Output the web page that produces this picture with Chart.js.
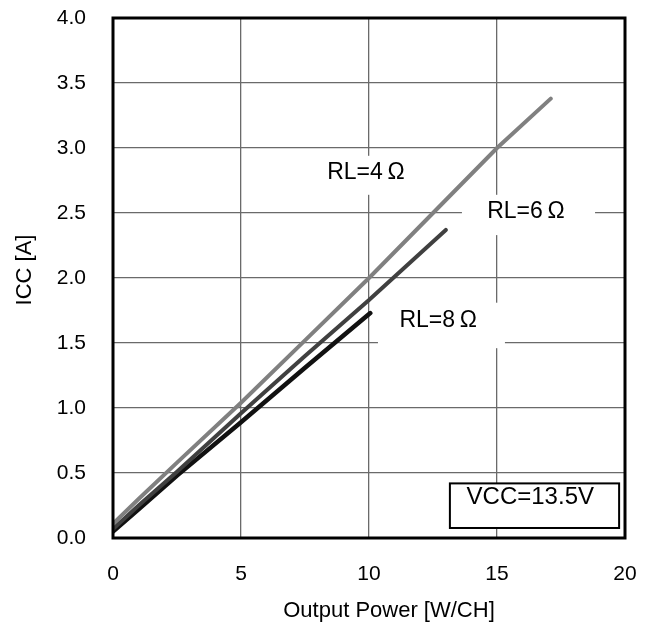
<!DOCTYPE html>
<html>
<head>
<meta charset="utf-8">
<script src="https://cdn.jsdelivr.net/npm/chart.js@4/dist/chart.umd.min.js"></script>
<style>
  body { margin: 0; background: #fff; }
  canvas { display: block; }
</style>
</head>
<body>
<canvas id="icc" width="651" height="632"></canvas>
<script>
  // values
  let powerRL4 = [0, 1, 2.5, 5, 7.5, 10, 12.5, 15, 17.1];
  let iccRL4   = [0.11, 0.30, 0.58, 1.04, 1.52, 2.00, 2.50, 3.00, 3.38];
  let powerRL6 = [0, 1, 2.5, 5, 7.5, 10, 13.0];
  let iccRL6   = [0.07, 0.25, 0.51, 0.96, 1.40, 1.83, 2.37];
  let powerRL8 = [0, 1, 2.5, 5, 7.5, 10.05];
  let iccRL8   = [0.05, 0.22, 0.48, 0.89, 1.31, 1.73];
  let xTicks = [0, 5, 10, 15, 20];
  let yTicks = [0.0, 0.5, 1.0, 1.5, 2.0, 2.5, 3.0, 3.5, 4.0];
  let xTitle = 'Output Power [W/CH]';
  let yTitle = 'ICC [A]';

  let font = "'Liberation Sans', Arial, sans-serif";
  let toPoints = (xs, ys) => xs.map((x, i) => ({ x: x, y: ys[i] }));

  // text notes in data coordinates: text position and the white box behind it
  let notes = [
    { text: 'RL=4\u2009\u03A9', x: 9.88, y: 2.81, size: 23, box: [8.0, 11.9, 2.94, 2.64], frame: false },
    { text: 'RL=6\u2009\u03A9', x: 16.13, y: 2.51, size: 23, box: [13.63, 18.83, 2.64, 2.33], frame: false },
    { text: 'RL=8\u2009\u03A9', x: 12.7, y: 1.67, size: 23, box: [10.35, 15.31, 1.81, 1.46], frame: false },
    { text: 'VCC=13.5V', x: 16.3, y: 0.31, size: 24, box: [13.16, 19.77, 0.42, 0.077], frame: true }
  ];

  let notePlugin = {
    id: 'notes',
    beforeDatasetsDraw(chart) {
      let c = chart.ctx, xs = chart.scales.x, ys = chart.scales.y;
      c.save();
      notes.forEach(n => {
        let x0 = xs.getPixelForValue(n.box[0]), x1 = xs.getPixelForValue(n.box[1]);
        let y0 = ys.getPixelForValue(n.box[2]), y1 = ys.getPixelForValue(n.box[3]);
        c.fillStyle = '#fff';
        c.fillRect(x0, y0, x1 - x0, y1 - y0);
        if (n.frame) {
          c.strokeStyle = '#000';
          c.lineWidth = 2;
          c.strokeRect(x0, y0, x1 - x0, y1 - y0);
        }
        c.fillStyle = '#000';
        c.font = n.size + 'px ' + font;
        c.textAlign = 'center';
        c.textBaseline = 'middle';
        c.fillText(n.text, xs.getPixelForValue(n.x), ys.getPixelForValue(n.y));
      });
      c.restore();
    },
    afterDatasetsDraw(chart) {
      let c = chart.ctx, a = chart.chartArea;
      c.save();
      c.strokeStyle = '#000';
      c.lineWidth = 3;
      c.strokeRect(a.left, a.top, a.right - a.left, a.bottom - a.top);
      // axis titles, sitting a little off centre as in the original
      c.fillStyle = '#000';
      c.font = '22px ' + font;
      c.textAlign = 'center';
      c.textBaseline = 'middle';
      c.fillText(xTitle, (a.left + a.right) / 2 + 20, 611);
      c.translate(25, (a.top + a.bottom) / 2 - 8);
      c.rotate(-Math.PI / 2);
      c.fillText(yTitle, 0, 0);
      c.restore();
    }
  };

  let ctx = document.getElementById('icc').getContext('2d');
  let chart = new Chart(ctx, {
    type: 'line',
    data: {
      datasets: [{
        label: 'RL=4',
        data: toPoints(powerRL4, iccRL4),
        borderColor: '#808080',
        borderWidth: 4,
      }, {
        label: 'RL=6',
        data: toPoints(powerRL6, iccRL6),
        borderColor: '#404040',
        borderWidth: 4,
      }, {
        label: 'RL=8',
        data: toPoints(powerRL8, iccRL8),
        borderColor: '#111',
        borderWidth: 4.5,
      }]
    },
    options: {
      responsive: false,
      animation: false,
      layout: { padding: { left: 12, top: 18, right: 26, bottom: 0 } },
      elements: { point: { radius: 0 }, line: { tension: 0, borderCapStyle: 'round' } },
      plugins: { legend: { display: false }, tooltip: { enabled: false } },
      scales: {
        x: {
          type: 'linear',
          min: 0, max: 20,
          afterBuildTicks: s => { s.ticks = xTicks.map(v => ({ value: v })); },
          afterFit: s => { s.height = 94; s.paddingLeft = 0; s.paddingRight = 0; },
          border: { display: false },
          grid: { color: '#6a6a6a', lineWidth: 1.3, drawTicks: false },
          ticks: { color: '#000', padding: 24, font: { family: font, size: 21 } }
        },
        y: {
          min: 0, max: 4,
          afterBuildTicks: s => { s.ticks = yTicks.map(v => ({ value: v })); },
          afterFit: s => { s.width = 101; s.paddingTop = 0; s.paddingBottom = 0; },
          border: { display: false },
          grid: { color: '#6a6a6a', lineWidth: 1.3, drawTicks: false },
          ticks: { color: '#000', padding: 27, font: { family: font, size: 21 }, callback: v => v.toFixed(1) }
        }
      }
    },
    plugins: [notePlugin]
  });
</script>
</body>
</html>
